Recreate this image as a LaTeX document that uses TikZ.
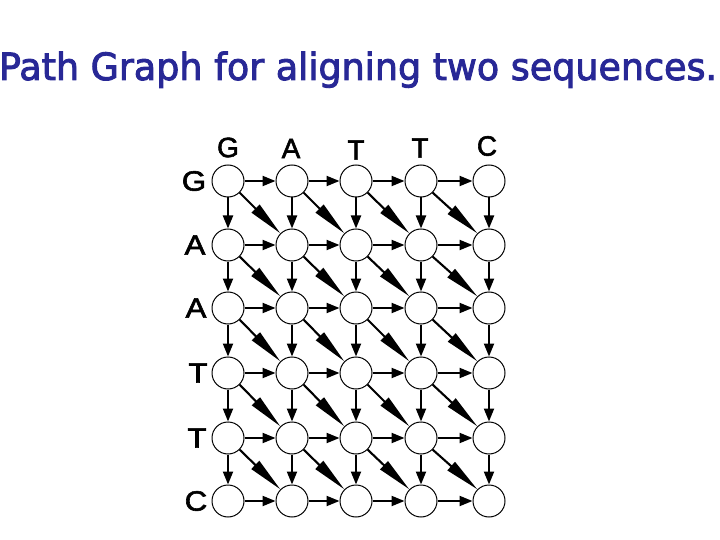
\documentclass[tikz,border=0pt]{standalone}
\usepackage{fontspec}
\usepackage{graphicx}
\setmainfont{Liberation Sans}
\newfontfamily\labelfont[FakeBold=2]{Liberation Sans}
\newfontfamily\titlefont[FakeBold=2.5]{DejaVu Sans}
\usetikzlibrary{arrows.meta}
\definecolor{titleblue}{RGB}{40,40,150}
\tikzset{
  cell/.style={circle,draw=black,line width=1pt,minimum size=32pt,inner sep=0pt,fill=white},
  seqlabel/.style={inner sep=0pt,font=\labelfont\fontsize{28}{30}\selectfont},
  hv/.style={line width=2.1pt,-{Triangle[length=13pt,width=10pt]}},
  diag/.style={line width=2.1pt,-{Triangle[length=35pt,width=11pt]}},
}
\newcommand{\wideletter}[1]{\scalebox{1.12}[1]{#1}}
\begin{document}
\begin{tikzpicture}[x=1pt,y=-1pt]
\useasboundingbox (0,0) rectangle (720,540);
\node[anchor=base,inner sep=0pt,text=titleblue] (title) at (358,80)
  {\resizebox{718pt}{\height}{\titlefont\fontsize{37.5}{40}\selectfont Path Graph for aligning two sequences.}};
% grid nodes
\def\colx{{228,292,356,421,489}}
\def\rowy{{181,245,308,373,438,501}}
\foreach \r in {0,...,5}{
  \foreach \c in {0,...,4}{
    \pgfmathsetmacro{\xx}{\colx[\c]}
    \pgfmathsetmacro{\yy}{\rowy[\r]}
    \node[cell] (n-\r-\c) at (\xx,\yy) {};
  }
}
% top labels
\node[seqlabel] (t0) at (228,147.5) {G};
\node[seqlabel] (t1) at (291,148.5) {A};
\node[seqlabel] (t2) at (356,150) {T};
\node[seqlabel] (t3) at (420,148) {T};
\node[seqlabel] (t4) at (487,146) {C};
% left labels
\node[seqlabel] (l0) at (194,181) {\wideletter{G}};
\node[seqlabel] (l1) at (195,245) {\wideletter{A}};
\node[seqlabel] (l2) at (196,308) {\wideletter{A}};
\node[seqlabel] (l3) at (198,373) {\wideletter{T}};
\node[seqlabel] (l4) at (197,438) {\wideletter{T}};
\node[seqlabel] (l5) at (196,501) {\wideletter{C}};
% horizontal arrows
\foreach \r in {0,...,5}{
  \foreach \c [evaluate=\c as \cn using int(\c+1)] in {0,...,3}{
    \draw[hv] (n-\r-\c.east) -- (n-\r-\cn.west);
  }
}
% vertical arrows
\foreach \r [evaluate=\r as \rn using int(\r+1)] in {0,...,4}{
  \foreach \c in {0,...,4}{
    \draw[hv] (n-\r-\c.south) -- (n-\rn-\c.north);
  }
}
% diagonal arrows
\foreach \r [evaluate=\r as \rn using int(\r+1)] in {0,...,4}{
  \foreach \c [evaluate=\c as \cn using int(\c+1)] in {0,...,3}{
    \draw[diag] (n-\r-\c.south east) -- (n-\rn-\cn.north west);
  }
}
\end{tikzpicture}
\end{document}
